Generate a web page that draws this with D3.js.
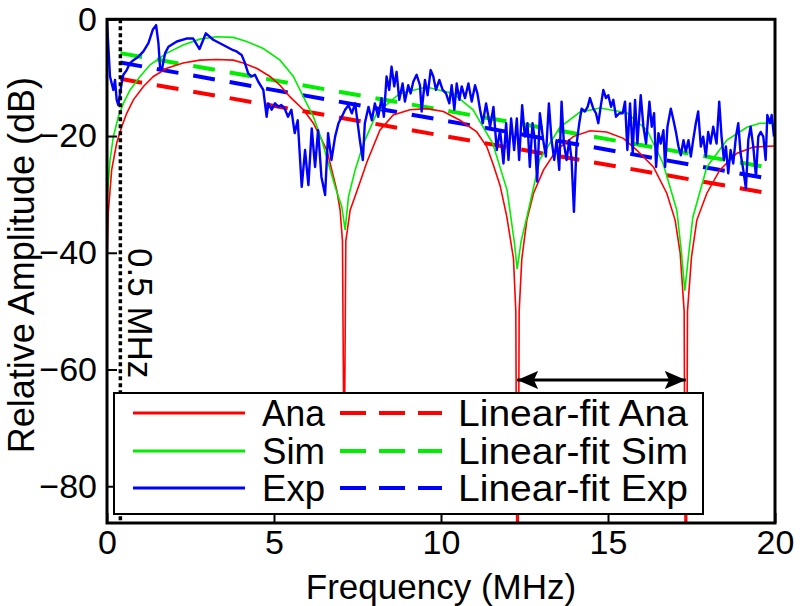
<!DOCTYPE html>
<html><head><meta charset="utf-8">
<script src="https://cdn.jsdelivr.net/npm/d3@7/dist/d3.min.js"></script>
<style>
html,body{margin:0;padding:0;background:#fff;}
svg text{font-family:"Liberation Sans",Arial,Helvetica,sans-serif;}
</style></head><body>
<svg id="chart" width="800" height="606"></svg>
<script>
const freqTicks = [0, 5, 10, 15, 20];
const dbTicks = [0, -20, -40, -60, -80];

const anaFreq = [0, 0.04, 0.14, 0.29, 0.44, 0.59, 0.79, 1.09, 1.39, 1.79, 2.28, 2.78, 3.28, 3.78, 4.08, 4.48, 4.88, 5.18, 5.48, 5.88, 6.18, 6.38, 6.58, 6.73, 6.88, 6.98, 7.05, 7.10, 7.15, 7.28, 7.57, 7.78, 8.17, 8.57, 9.07, 9.57, 10.07, 10.57, 11.07, 11.37, 11.57, 11.77, 11.97, 12.17, 12.24, 12.29, 12.34, 12.42, 12.57, 12.77, 13.07, 13.46, 13.96, 14.46, 14.96, 15.46, 15.86, 16.36, 16.76, 17.01, 17.16, 17.28, 17.33, 17.38, 17.5, 17.66, 17.96, 18.35, 18.85, 19.35, 19.95, 20];
const anaDb = [-42, -33, -25.8, -21.2, -18.4, -16.1, -13.8, -11.5, -9.8, -8.4, -7.5, -7.0, -6.9, -7.0, -7.5, -8.4, -9.8, -11.3, -13.3, -15.5, -17.8, -20.1, -22.4, -25.8, -29.3, -32.7, -38, -80, -38, -32.7, -28, -24.5, -19.0, -16.4, -15.5, -15.3, -15.8, -17.3, -19.3, -21.8, -25, -28.5, -33.8, -41, -50, -120, -50, -41, -34.4, -29.8, -25.8, -22.4, -20.1, -19.1, -19.3, -20.4, -22.4, -25.3, -29.8, -34.4, -40, -50, -120, -50, -40.7, -34.4, -29.8, -25.8, -23.0, -21.9, -21.7, -21.7];

const simFreq = [0, 0.01, 0.09, 0.19, 0.34, 0.49, 0.69, 0.99, 1.29, 1.79, 2.28, 2.78, 3.28, 3.78, 4.18, 4.68, 5.18, 5.58, 5.88, 6.18, 6.43, 6.63, 6.83, 7.03, 7.13, 7.23, 7.43, 7.68, 8.08, 8.77, 9.57, 10.36, 10.96, 11.55, 11.98, 12.2, 12.28, 12.4, 12.57, 12.96, 13.56, 14.16, 14.76, 15.56, 16.17, 16.65, 17.06, 17.2, 17.3, 17.42, 17.54, 17.96, 18.56, 19.16, 19.55, 20];
const simDb = [-34, -30.4, -24.1, -20.1, -16.7, -14.4, -12.1, -9.8, -7.8, -5.8, -4.4, -3.4, -3.0, -3.1, -3.8, -5.0, -7.0, -9.8, -13.3, -16.7, -20.7, -24.7, -28.7, -32.1, -36.1, -30.4, -25.8, -21.3, -16, -12.7, -11.6, -12.7, -15.5, -21.3, -29.3, -38.4, -42.8, -38, -33.9, -24, -18.5, -15.9, -15.2, -16, -19, -24.7, -32.7, -40, -46.5, -40, -33.9, -25.3, -20.7, -18.5, -17.8, -17.8];

const expFreq = [0, 0.09, 0.19, 0.24, 0.29, 0.34, 0.39, 0.44, 0.49, 0.59, 0.69, 0.79, 0.94, 1.09, 1.24, 1.37, 1.47, 1.54, 1.59, 1.64, 1.74, 1.84, 2.09, 2.38, 2.58, 2.77, 2.84, 2.96, 3.18, 3.48, 3.78,
 3.88, 4.03, 4.13, 4.23, 4.33, 4.43, 4.53, 4.68, 4.78, 4.83, 4.93, 5.03, 5.13, 5.22, 5.32, 5.42, 5.52, 5.62, 5.71, 5.83, 5.93, 6.03, 6.13, 6.23, 6.32, 6.42, 6.53, 6.62, 6.72, 6.83, 6.93, 7.03, 7.13, 7.23, 7.33, 7.43,
 7.57, 7.66, 7.72, 7.83, 7.93, 8.02, 8.12, 8.22, 8.29, 8.37, 8.45, 8.52, 8.60, 8.67, 8.75, 8.85, 8.92, 9.02, 9.09, 9.17, 9.27, 9.37, 9.42, 9.52, 9.60, 9.69, 9.77, 9.85, 9.95, 10.05, 10.15, 10.25, 10.32, 10.40, 10.47, 10.55, 10.62, 10.72, 10.82, 10.92, 11.02, 11.09, 11.17, 11.25, 11.35,
 11.47, 11.57, 11.67, 11.77, 11.87, 11.95, 12.02, 12.10, 12.19, 12.27, 12.34, 12.43, 12.51, 12.59, 12.66, 12.74, 12.81, 12.88, 12.96, 13.06, 13.14, 13.23, 13.31, 13.39, 13.46, 13.54, 13.61, 13.68, 13.76, 13.84, 13.91, 13.98, 14.06, 14.14, 14.21, 14.31, 14.39, 14.46, 14.56, 14.64, 14.71, 14.78, 14.86, 14.94, 15.01, 15.09, 15.16, 15.24, 15.34,
 15.44, 15.51, 15.58, 15.66, 15.74, 15.81, 15.88, 15.98, 16.06, 16.14, 16.24, 16.31, 16.38, 16.44, 16.51, 16.58, 16.66, 16.71, 16.78, 16.88, 16.96, 17.04, 17.11, 17.18, 17.26, 17.33, 17.41, 17.48, 17.55, 17.63, 17.70, 17.78, 17.85, 17.93, 18.00, 18.07, 18.15, 18.25, 18.33, 18.40, 18.47, 18.53, 18.60, 18.67, 18.75, 18.83, 18.90, 18.97, 19.05, 19.13, 19.20, 19.27, 19.35, 19.43, 19.50, 19.57, 19.65, 19.72, 19.77, 19.85, 19.90, 19.97];
const expDb = [-0.4, -9.8, -12.1, -10.4, -13.8, -14.7, -12.7, -10.9, -9.5, -8.7, -7.5, -7.0, -6.4, -5.5, -4.1, -1.8, -1.0, -4.1, -8.4, -8.7, -5.8, -4.7, -3.8, -3.3, -3.3, -5.1, -4.1, -2.4, -3.5, -4.4, -5.3,
 -5.5, -6.1, -7.5, -9.3, -9.8, -9.5, -10.7, -12.1, -16.7, -14.4, -15.5, -14.4, -15.0, -14.7, -15.3, -16.7, -15.5, -19.5, -17.3, -28.7, -22.4, -28.4, -18.7, -25.3, -19.0, -27.0, -30.1, -19.5, -24.1, -20.1, -17.8, -16.7, -15.5, -14.7, -16.1, -14.4,
 -20.7, -24.1, -17.8, -15.0, -17.3, -14.4, -16.7, -13.5, -16.7, -9.8, -12.1, -8.1, -11.5, -9.0, -13.8, -11.0, -14.1, -11.3, -12.7, -10.7, -9.5, -11.3, -15.8, -10.4, -13.0, -8.7, -9.8, -12.1, -10.4, -12.1, -12.7, -14.4, -11.3, -15.5, -11.0, -13.8, -11.5, -13.5, -11.0, -14.1, -11.3, -12.7, -15.5, -17.8, -14.4,
 -18.4, -15.0, -22.4, -19.0, -24.7, -17.8, -24.1, -17.0, -22.4, -17.0, -24.1, -14.7, -20.1, -17.8, -25.3, -17.8, -20.7, -27.8, -16.1, -20.7, -23.5, -14.4, -20.7, -24.1, -20.7, -25.8, -14.1, -21.3, -24.1, -20.7, -24.1, -33.0, -21.3, -17.8, -15.3, -15.8, -15.0, -13.5, -15.3, -16.1, -17.8, -15.0, -12.1, -13.5, -13.0, -15.0, -13.8, -16.7, -16.1,
 -16.1, -14.1, -22.4, -14.4, -23.0, -13.8, -21.3, -13.0, -18.4, -21.3, -14.1, -18.4, -16.1, -25.3, -19.5, -21.3, -19.0, -25.3, -18.4, -15.3, -17.3, -19.5, -21.8, -23.3, -20.7, -22.7, -20.7, -23.5, -20.7, -17.8, -15.8, -21.8, -20.1, -23.5, -19.3, -21.3, -18.4, -21.3, -14.1, -20.1, -24.1, -21.8, -26.4, -22.4, -24.7, -20.1, -17.8, -23.0, -25.8, -29.0, -20.7, -18.4, -21.8, -27.0, -20.1, -19.3, -20.1, -24.1, -16.4, -17.8, -16.4, -20.1];

const fitFreq = [0.4, 20];
const fitAna = [-10.2, -30.0];
const fitSim = [-5.8, -25.6];
const fitExp = [-7.4, -27.5];

const markerFreq = 0.4;
const arrowFreq = [12.28, 17.33];
const arrowDb = -61.8;

const seriesNames = ["Ana", "Sim", "Exp"];
const fitNames = ["Linear-fit Ana", "Linear-fit Sim", "Linear-fit Exp"];
const colors = ["#ff0000", "#00ee00", "#0000ff"];

const W = 800, H = 606;
const L = 107, R = 775, T = 19.3, B = 523;
const x = d3.scaleLinear().domain([0, 20]).range([L, R]);
const y = d3.scaleLinear().domain([-86.3, 0]).range([B, T]);
const FONT = '"Liberation Sans",Arial,Helvetica,sans-serif';

const svg = d3.select("#chart");
const defs = svg.append("defs");
defs.append("clipPath").attr("id", "clip")
  .append("rect").attr("x", L).attr("y", T).attr("width", R - L).attr("height", B - T);

const plot = svg.append("g").attr("clip-path", "url(#clip)");
const line = d3.line().x(d => x(d[0])).y(d => y(d[1]));
const zip = (a, b) => a.map((v, i) => [v, b[i]]);

// fits (dashed)
[fitAna, fitSim, fitExp].forEach((f, i) => {
  plot.append("path").attr("d", line(zip(fitFreq, f)))
    .attr("fill", "none").attr("stroke", colors[i]).attr("stroke-width", 4)
    .attr("stroke-dasharray", "22,15");
});
// curves
plot.append("path").attr("d", line(zip(anaFreq, anaDb))).attr("fill", "none").attr("stroke", colors[0]).attr("stroke-width", 1.6);
plot.append("path").attr("d", line(zip(simFreq, simDb))).attr("fill", "none").attr("stroke", colors[1]).attr("stroke-width", 1.6);
plot.append("path").attr("d", line(zip(expFreq, expDb))).attr("fill", "none").attr("stroke", colors[2]).attr("stroke-width", 2.4).attr("stroke-linejoin", "round");

// 0.5 MHz marker
plot.append("line").attr("x1", x(markerFreq)).attr("x2", x(markerFreq)).attr("y1", T).attr("y2", B)
  .attr("stroke", "#000").attr("stroke-width", 3.5).attr("stroke-dasharray", "4,3");
svg.append("text").attr("transform", `translate(${x(markerFreq) + 8},248) rotate(90)`)
  .attr("font-size", 35).attr("fill", "#000").text("0.5 MHz");

// arrow
defs.append("marker").attr("id", "ah").attr("viewBox", "0 0 10 10").attr("refX", 10).attr("refY", 5)
  .attr("markerWidth", 7).attr("markerHeight", 6).attr("markerUnits", "strokeWidth").attr("orient", "auto-start-reverse")
  .attr("preserveAspectRatio", "none")
  .append("path").attr("d", "M0,0 L10,5 L0,10 L2,5 Z").attr("fill", "#000");
svg.append("line").attr("x1", x(arrowFreq[0])).attr("x2", x(arrowFreq[1])).attr("y1", y(arrowDb)).attr("y2", y(arrowDb))
  .attr("stroke", "#000").attr("stroke-width", 3)
  .attr("marker-start", "url(#ah)").attr("marker-end", "url(#ah)");

// axes
const xAxis = d3.axisBottom(x).tickValues(freqTicks).tickSizeInner(-10).tickSizeOuter(0).tickPadding(7);
const gx = svg.append("g").attr("transform", `translate(0,${B})`).call(xAxis);
gx.select(".domain").remove();
gx.selectAll("line").attr("stroke", "#000").attr("stroke-width", 2);
gx.selectAll("text").attr("font-size", 34).attr("fill", "#000").attr("font-family", FONT);

const yAxis = d3.axisLeft(y).tickValues(dbTicks).tickSizeInner(-10).tickSizeOuter(0).tickPadding(10);
const gy = svg.append("g").attr("transform", `translate(${L},0)`).call(yAxis);
gy.select(".domain").remove();
gy.selectAll("line").attr("stroke", "#000").attr("stroke-width", 2);
gy.selectAll("text").attr("font-size", 34).attr("fill", "#000").attr("font-family", FONT);

// frame
svg.append("rect").attr("x", L).attr("y", T).attr("width", R - L).attr("height", B - T)
  .attr("fill", "none").attr("stroke", "#000").attr("stroke-width", 3);

// axis labels
svg.append("text").attr("x", (L + R) / 2).attr("y", 599).attr("text-anchor", "middle")
  .attr("font-size", 35).attr("fill", "#000").text("Frequency (MHz)");
svg.append("text").attr("transform", `translate(34,${(T + B) / 2 - 6}) rotate(-90)`).attr("text-anchor", "middle")
  .attr("font-size", 36).attr("fill", "#000").text("Relative Amplitude (dB)");

// legend
const lg = svg.append("g");
lg.append("rect").attr("x", 114).attr("y", 393).attr("width", 589).attr("height", 121)
  .attr("fill", "#fff").attr("stroke", "#000").attr("stroke-width", 2);
const rowY = [413, 451, 488];
seriesNames.forEach((n, i) => {
  lg.append("line").attr("x1", 133).attr("x2", 245).attr("y1", rowY[i]).attr("y2", rowY[i])
    .attr("stroke", colors[i]).attr("stroke-width", 3);
  lg.append("text").attr("x", 262).attr("y", rowY[i]).attr("dy", "0.36em").attr("font-size", 36)
    .attr("textLength", 63).attr("lengthAdjust", "spacingAndGlyphs").attr("fill", "#000").text(n);
  lg.append("line").attr("x1", 340).attr("x2", 442).attr("y1", rowY[i]).attr("y2", rowY[i])
    .attr("stroke", colors[i]).attr("stroke-width", 4).attr("stroke-dasharray", "26,13");
  lg.append("text").attr("x", 458).attr("y", rowY[i]).attr("dy", "0.36em").attr("font-size", 36)
    .attr("textLength", 230).attr("lengthAdjust", "spacingAndGlyphs").attr("fill", "#000").text(fitNames[i]);
});
</script>
</body></html>
